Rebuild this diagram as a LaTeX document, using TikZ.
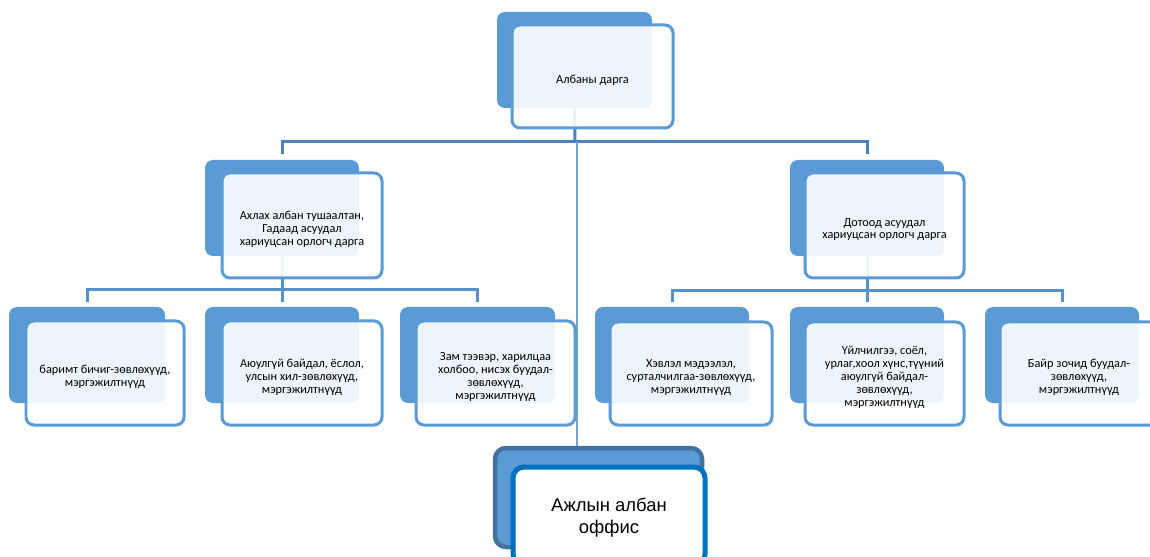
\documentclass[tikz,border=0pt]{standalone}
\usepackage{fontspec}
\setmainfont{Carlito}
\newfontfamily\officefont{Liberation Sans}
\usepackage{tikz}
\usetikzlibrary{fit, backgrounds}

\definecolor{boxblue}{RGB}{91,155,213}
\definecolor{linkdark}{RGB}{76,128,184}
\definecolor{linkblue}{RGB}{86,145,203}
\definecolor{officedark}{RGB}{68,114,160}
\definecolor{officeblue}{RGB}{0,112,192}

\begin{document}
\begin{tikzpicture}[x=0.02cm, y=-0.02cm,
    back/.style={rectangle, rounded corners=0.16cm, fill=boxblue, inner sep=0pt},
    front/.style={rectangle, rounded corners=0.16cm, draw=boxblue, line width=0.06cm,
        fill=white, fill opacity=0.9, inner sep=0pt},
    boxtext/.style={align=center, inner sep=0pt, yshift=-0.08cm,
        font=\fontsize{7.0}{7.3}\selectfont},
    link1/.style={draw=linkdark, line width=0.06cm},
    link2/.style={draw=linkblue, line width=0.06cm},
    thinlink/.style={draw=boxblue!90!white, line width=0.035cm},
    officeback/.style={rectangle, rounded corners=0.22cm, fill=boxblue, draw=officedark,
        line width=0.09cm, inner sep=0pt},
    officefront/.style={rectangle, rounded corners=0.22cm, fill=white, draw=officeblue,
        line width=0.1cm, inner sep=0pt},
    officetext/.style={align=center, inner sep=0pt, yshift=-0.04cm,
        font=\officefont\fontsize{10.5}{12.5}\selectfont}]

    \useasboundingbox (0,0) rectangle (1150,557);

    \node[back, fit={(497,12) (652,108)}] (chief back) {};
    \node[front, fit={(512,25) (673,128)}] (chief) {};
    \node[boxtext] (chief text) at (chief.center) {Албаны дарга};

    \node[back, fit={(205,160) (359,256)}] (dep1 back) {};
    \node[front, fit={(222,173) (382,278)}] (dep1) {};
    \node[boxtext] (dep1 text) at (dep1.center) {Ахлах албан тушаалтан,\\Гадаад асуудал\\хариуцсан орлогч дарга};

    \node[back, fit={(790,160) (944,256)}] (dep2 back) {};
    \node[front, fit={(805,173) (964,278)}] (dep2) {};
    \node[boxtext] (dep2 text) at (dep2.center) {Дотоод асуудал\\хариуцсан орлогч дарга};

    \node[back, fit={(9,307) (165,403)}] (cons1 back) {};
    \node[front, fit={(26,321) (184,425)}] (cons1) {};
    \node[boxtext] (cons1 text) at (cons1.center) {баримт бичиг-зөвлөхүүд,\\мэргэжилтнүүд};

    \node[back, fit={(205,307) (359,403)}] (cons2 back) {};
    \node[front, fit={(222,321) (382,425)}] (cons2) {};
    \node[boxtext] (cons2 text) at (cons2.center) {Аюулгүй байдал, ёслол,\\улсын хил-зөвлөхүүд,\\мэргэжилтнүүд};

    \node[back, fit={(400,307) (555,403)}] (cons3 back) {};
    \node[front, fit={(416,321) (575,425)}] (cons3) {};
    \node[boxtext] (cons3 text) at (cons3.center) {Зам тээвэр, харилцаа\\холбоо, нисэх буудал-\\зөвлөхүүд,\\мэргэжилтнүүд};

    \node[back, fit={(595,307) (749,403)}] (cons4 back) {};
    \node[front, fit={(610,322) (772,425)}] (cons4) {};
    \node[boxtext] (cons4 text) at (cons4.center) {Хэвлэл мэдээлэл,\\сурталчилгаа-зөвлөхүүд,\\мэргэжилтнүүд};

    \node[back, fit={(790,307) (944,403)}] (cons5 back) {};
    \node[front, fit={(805,322) (964,425)}] (cons5) {};
    \node[boxtext] (cons5 text) at (cons5.center) {Үйлчилгээ, соёл,\\урлаг,хоол хүнс,түүний\\аюулгүй байдал-\\зөвлөхүүд,\\мэргэжилтнүүд};

    \node[back, fit={(985,307) (1139,403)}] (cons6 back) {};
    \node[front, fit={(1000,322) (1158,425)}] (cons6) {};
    \node[boxtext] (cons6 text) at (cons6.center) {Байр зочид буудал-\\зөвлөхүүд,\\мэргэжилтнүүд};

    \node[officeback, fit={(495,448) (702,547)}] (office back) {};
    \node[officefront, fit={(513,467) (705,565)}] (office) {};
    \node[officetext] (office text) at (office.center) {Ажлын албан\\оффис};

    \coordinate (bus top) at (575,142);
    \coordinate (drop) at (577,142);
    \coordinate (bus left) at (282,290);
    \coordinate (bus right) at (867,291);

    \begin{scope}[on background layer]
    \draw[link1] (chief back.south) -- (bus top);
    \draw[link1, shorten <=0.12cm, shorten >=0.12cm] (dep1 back.north) |- (bus top) -| (dep2 back.north);
    \draw[thinlink] (drop) -- (drop |- office back.north);

    \draw[link2] (dep1 back.south) -- (bus left);
    \draw[link2, shorten <=0.1cm, shorten >=0.1cm] (cons1 back.north) |- (bus left) -| (cons3 back.north);
    \draw[link2, shorten >=0.1cm] (bus left) -- (cons2 back.north);

    \draw[link2] (dep2 back.south) -- (bus right);
    \draw[link2, shorten <=0.1cm, shorten >=0.1cm] (cons4 back.north) |- (bus right) -| (cons6 back.north);
    \draw[link2, shorten >=0.1cm] (bus right) -- (cons5 back.north);
    \end{scope}

\end{tikzpicture}
\end{document}
